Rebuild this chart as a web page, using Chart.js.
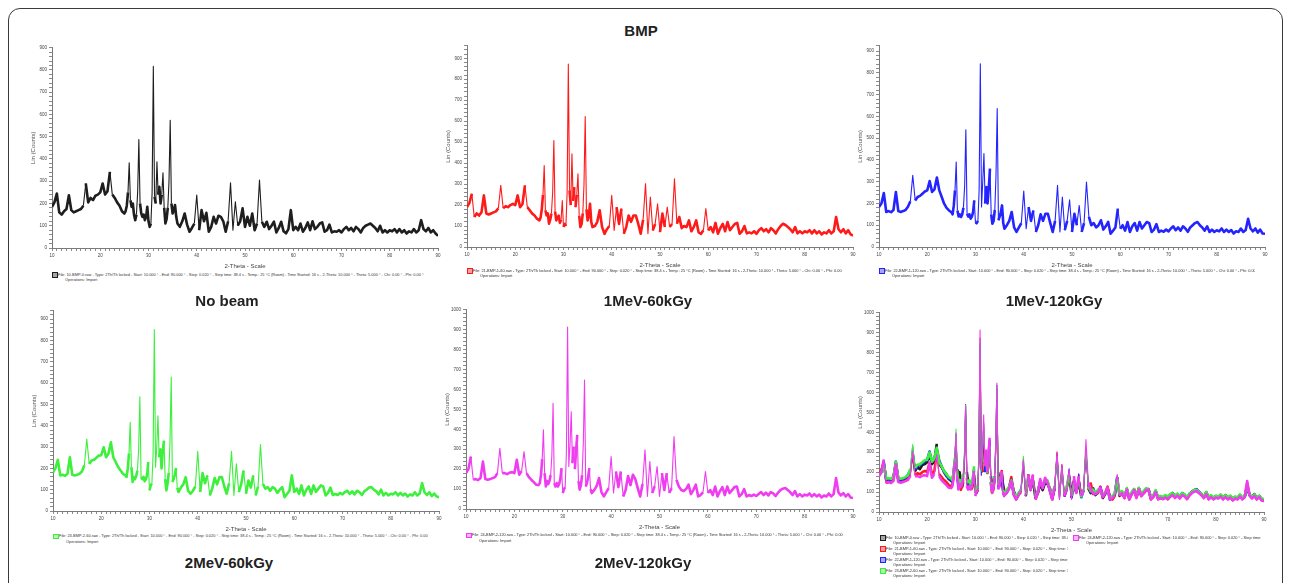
<!DOCTYPE html>
<html>
<head>
<meta charset="utf-8">
<script src="https://cdn.jsdelivr.net/npm/chart.js@4.4.1/dist/chart.umd.min.js"></script>
<style>
  body { margin: 0; width: 1289px; height: 583px; overflow: hidden; position: relative; background: #fff; font-family: "Liberation Sans", Arial, sans-serif; }
  .frame { position: absolute; left: 8px; top: 8px; width: 1273px; height: 640px; border: 1.5px solid #3a3a3a; border-radius: 12px; }
  .title { position: absolute; transform: translate(-50%, -50%); font-weight: bold; font-size: 15px; color: #222; white-space: nowrap; }
  .legend { position: absolute; font-size: 3.9px; line-height: 5.5px; color: #333; white-space: nowrap; overflow: hidden; }
  .legend .item { position: relative; padding-left: 6px; }
  .legend .box { position: absolute; left: 0; top: 0.5px; width: 3.5px; height: 3.5px; border: 0.8px solid; }
  .legend .ops { padding-left: 7px; }
</style>
</head>
<body>
<div class="frame"></div>

<script>
// 2-theta positions (deg), finer step round the main apatite peaks
const angles = [
  10, 10.5, 11, 11.5, 12, 12.5, 13, 13.5, 14, 14.5,
  15, 15.5, 16, 16.5, 17, 17.5, 18, 18.5, 19, 19.5,
  20, 20.5, 21, 21.5, 22, 22.5, 23, 23.5, 24, 24.5,
  25, 25.25, 25.5, 25.75, 26, 26.25, 26.5, 26.75,
  27, 27.25, 27.5, 27.75, 28, 28.25, 28.5, 28.75,
  29, 29.25, 29.5, 29.75, 30, 30.25, 30.5, 30.75,
  31, 31.25, 31.5, 31.75, 32, 32.25, 32.5, 32.75,
  33, 33.25, 33.5, 33.75, 34, 34.25, 34.5, 34.75,
  35, 35.25, 35.5, 35.75, 36,
  36.5, 37, 37.5, 38, 38.5, 39, 39.5, 40,
  40.5, 41, 41.5, 42, 42.5, 43, 43.5, 44, 44.5, 45,
  45.5, 46, 46.5, 47, 47.5, 48, 48.5, 49, 49.5, 50,
  50.5, 51, 51.5, 52, 52.5, 53, 53.5, 54, 54.5, 55,
  55.5, 56, 56.5, 57, 57.5, 58, 58.5, 59, 59.5, 60,
  60.5, 61, 61.5, 62, 62.5, 63, 63.5, 64, 64.5, 65,
  65.5, 66, 66.5, 67, 67.5, 68, 68.5, 69, 69.5, 70,
  70.5, 71, 71.5, 72, 72.5, 73, 73.5, 74, 74.5, 75,
  75.5, 76, 76.5, 77, 77.5, 78, 78.5, 79, 79.5, 80,
  80.5, 81, 81.5, 82, 82.5, 83, 83.5, 84, 84.5, 85,
  85.5, 86, 86.5, 87, 87.5, 88, 88.5, 89, 89.5, 90
]

// Lin (Counts)
const noBeam = [
  185, 205, 245, 160, 150, 165, 175, 237, 170, 160,
  165, 170, 175, 190, 290, 205, 225, 215, 235, 240,
  250, 290, 240, 255, 342, 240, 225, 205, 190, 165,
  155, 165, 190, 250, 383, 215, 185, 200,
  150, 125, 150, 250, 487, 200, 155, 140,
  150, 125, 140, 185, 120, 95, 110, 250,
  816, 230, 200, 387, 240, 275, 200, 240,
  338, 180, 110, 130, 180, 300, 574, 200,
  155, 170, 193, 140, 110,
  95, 120, 155, 105, 73, 90, 110, 238,
  80, 170, 120, 158, 73, 95, 140, 110, 145, 140,
  120, 73, 120, 293, 80, 208, 100, 120, 178, 95,
  140, 100, 155, 80, 110, 305, 118, 95, 118, 85,
  100, 118, 70, 90, 118, 75, 66, 85, 170, 80,
  95, 80, 110, 73, 90, 115, 80, 120, 85, 95,
  110, 115, 73, 80, 105, 70, 75, 73, 80, 70,
  85, 95, 80, 90, 75, 95, 85, 70, 90, 100,
  105, 110, 100, 90, 75, 100, 70, 80, 70, 80,
  75, 85, 70, 85, 70, 80, 65, 75, 70, 85,
  70, 80, 125, 85, 75, 90, 70, 80, 65, 55
]

const mev1_60kGy = [
  190, 210, 254, 143, 160, 150, 165, 246, 160, 155,
  160, 165, 170, 185, 294, 185, 195, 190, 200, 206,
  200, 246, 190, 205, 294, 190, 175, 160, 150, 135,
  127, 140, 180, 250, 389, 175, 150, 160,
  111, 130, 160, 260, 508, 170, 127, 140,
  150, 115, 130, 222, 95, 110, 100, 260,
  873, 270, 200, 444, 220, 286, 190, 250,
  349, 150, 95, 110, 160, 300, 622, 180,
  127, 150, 206, 120, 95,
  100, 120, 175, 95, 63, 85, 100, 246,
  79, 190, 110, 183, 63, 95, 150, 120, 150, 150,
  110, 63, 130, 302, 63, 238, 79, 110, 206, 71,
  159, 95, 190, 95, 110, 325, 111, 143, 90, 100,
  95, 127, 75, 95, 127, 70, 63, 80, 183, 79,
  95, 70, 115, 63, 90, 110, 75, 119, 80, 95,
  110, 115, 63, 75, 100, 65, 70, 65, 75, 63,
  80, 90, 75, 85, 70, 90, 80, 65, 85, 100,
  111, 105, 95, 85, 70, 95, 65, 75, 65, 75,
  70, 80, 65, 80, 65, 75, 60, 70, 65, 80,
  65, 75, 143, 85, 70, 85, 65, 80, 60, 55
]

const mev1_120kGy = [
  184, 200, 248, 161, 165, 160, 170, 253, 165, 161,
  165, 170, 185, 210, 329, 214, 230, 235, 245, 255,
  260, 303, 253, 265, 319, 260, 230, 199, 180, 168,
  160, 150, 190, 260, 390, 168, 140, 150,
  138, 150, 180, 280, 539, 153, 140, 150,
  130, 140, 160, 214, 107, 110, 120, 260,
  842, 184, 300, 429, 200, 276, 200, 270,
  360, 150, 107, 120, 170, 330, 636, 123,
  140, 160, 191, 110, 84,
  100, 120, 161, 90, 69, 90, 110, 257,
  84, 184, 120, 168, 69, 100, 150, 120, 153, 153,
  110, 69, 120, 283, 69, 230, 77, 120, 217, 69,
  153, 100, 191, 69, 110, 299, 138, 100, 110, 90,
  100, 123, 80, 95, 115, 61, 75, 90, 176, 84,
  100, 75, 115, 69, 95, 110, 75, 115, 85, 100,
  115, 110, 69, 80, 105, 69, 75, 70, 80, 72,
  85, 95, 77, 90, 75, 95, 85, 70, 90, 100,
  110, 115, 100, 90, 75, 95, 69, 80, 69, 77,
  72, 85, 69, 80, 69, 78, 62, 72, 69, 85,
  69, 78, 130, 85, 72, 85, 66, 80, 62, 61
]

const mev2_60kGy = [
  182, 200, 240, 167, 170, 165, 175, 252, 170, 167,
  170, 175, 185, 215, 338, 221, 237, 240, 250, 260,
  262, 299, 252, 270, 322, 252, 230, 206, 190, 175,
  167, 160, 200, 270, 416, 206, 136, 160,
  150, 165, 190, 290, 536, 159, 150, 160,
  140, 150, 170, 229, 97, 120, 130, 270,
  852, 206, 300, 447, 252, 290, 200, 280,
  330, 150, 97, 130, 180, 330, 629, 136,
  150, 170, 202, 110, 89,
  110, 125, 159, 95, 81, 95, 115, 280,
  89, 178, 130, 167, 73, 105, 155, 125, 159, 159,
  115, 81, 130, 280, 73, 221, 89, 125, 190, 81,
  143, 110, 167, 73, 115, 312, 128, 105, 112, 95,
  112, 105, 85, 100, 112, 65, 80, 95, 167, 89,
  105, 80, 120, 73, 100, 115, 80, 120, 90, 105,
  120, 115, 73, 85, 110, 75, 80, 75, 85, 78,
  89, 95, 80, 92, 78, 95, 89, 75, 92, 100,
  110, 112, 100, 92, 78, 100, 73, 85, 73, 81,
  78, 88, 73, 85, 73, 82, 68, 78, 73, 88,
  73, 82, 131, 88, 75, 88, 70, 82, 68, 65
]

const mev2_120kGy = [
  180, 200, 263, 147, 150, 145, 155, 238, 150, 147,
  150, 155, 160, 180, 305, 180, 180, 175, 182, 185,
  180, 247, 172, 190, 288, 180, 160, 147, 135, 122,
  120, 130, 170, 250, 397, 180, 113, 140,
  125, 140, 170, 270, 530, 130, 113, 130,
  113, 125, 150, 205, 80, 100, 110, 280,
  913, 213, 320, 488, 230, 313, 200, 290,
  372, 140, 97, 120, 170, 330, 647, 113,
  130, 160, 205, 100, 80,
  95, 115, 155, 85, 63, 85, 105, 263,
  80, 188, 110, 188, 63, 95, 165, 120, 172, 150,
  105, 63, 125, 297, 63, 238, 80, 115, 213, 63,
  180, 95, 180, 80, 105, 363, 147, 113, 95, 90,
  100, 122, 75, 95, 122, 63, 70, 85, 188, 80,
  95, 70, 113, 63, 90, 110, 70, 113, 80, 95,
  110, 113, 63, 75, 100, 63, 70, 65, 72, 65,
  75, 85, 70, 82, 68, 85, 78, 65, 82, 95,
  102, 105, 95, 85, 70, 90, 63, 75, 63, 72,
  68, 78, 63, 75, 63, 72, 58, 68, 63, 78,
  63, 75, 155, 82, 68, 80, 63, 75, 58, 55
]

const sampleFiles = ["10-BMP-0.raw", "21-BMP-1-60.raw", "22-BMP-1-120.raw", "23-BMP-2-60.raw", "24-BMP-2-120.raw"]
const sampleColors = ["#1e1e1e", "#ff1a1a", "#2424ff", "#3cf03c", "#f03cf0"]
const sampleValues = [noBeam, mev1_60kGy, mev1_120kGy, mev2_60kGy, mev2_120kGy]

const captions = [
  { text: "BMP", x: 641, y: 30 },
  { text: "No beam", x: 227, y: 300 },
  { text: "1MeV-60kGy", x: 648, y: 300 },
  { text: "1MeV-120kGy", x: 1054, y: 300 },
  { text: "2MeV-60kGy", x: 229, y: 562 },
  { text: "2MeV-120kGy", x: 643, y: 562 }
]

// x0/x1 = axis ends, top/y0 = plot top and zero line (px), ymax = value at plot top
const panels = [
  { x0: 52, x1: 438, top: 47, y0: 248, ymax: 900, samples: [0], legendTop: 271.5 },
  { x0: 467, x1: 853, top: 45, y0: 247, ymax: 960, samples: [1], legendTop: 267.5 },
  { x0: 879, x1: 1265, top: 45, y0: 247, ymax: 925, samples: [2], legendTop: 267.5 },
  { x0: 53, x1: 439, top: 310, y0: 511, ymax: 940, samples: [3], legendTop: 533 },
  { x0: 466, x1: 853, top: 309, y0: 509, ymax: 1000, samples: [4], legendTop: 532 },
  { x0: 879, x1: 1264, top: 312, y0: 512, ymax: 1000, samples: [0, 1, 2, 3, 4], legendTop: 534.5 }
]

Chart.defaults.font.family = '"Liberation Sans", Arial, sans-serif'

function legendText(i, short) {
  let txt = "File: " + sampleFiles[i] + " - Type: 2Th/Th locked - Start: 10.000 ° - End: 90.000 ° - Step: 0.020 ° - Step time: 38.4 s"
  if (!short) txt += " - Temp.: 25 °C (Room) - Time Started: 16 s - 2-Theta: 10.000 ° - Theta: 5.000 ° - Chi: 0.00 ° - Phi: 0.00 °"
  return txt
}

function legendItem(i, short) {
  const item = document.createElement("div")
  item.className = "item"
  const box = document.createElement("span")
  box.className = "box"
  box.style.borderColor = sampleColors[i]
  box.style.background = sampleColors[i] + "66"
  item.appendChild(box)
  item.appendChild(document.createTextNode(legendText(i, short)))
  const ops = document.createElement("div")
  ops.className = "ops"
  ops.textContent = "Operations: Import"
  item.appendChild(ops)
  return item
}

function drawLegend(p) {
  if (p.samples.length === 1) {
    const lg = document.createElement("div")
    lg.className = "legend"
    lg.style.left = p.x0 + "px"
    lg.style.top = p.legendTop + "px"
    lg.style.width = (p.x1 - p.x0 - 10) + "px"
    lg.appendChild(legendItem(p.samples[0], false))
    document.body.appendChild(lg)
    return
  }
  // combined panel: four entries on the left, the last one on the right
  const left = document.createElement("div")
  left.className = "legend"
  left.style.left = (p.x0 + 1) + "px"
  left.style.top = p.legendTop + "px"
  left.style.width = "188px"
  p.samples.slice(0, 4).forEach(i => left.appendChild(legendItem(i, true)))
  document.body.appendChild(left)
  const right = document.createElement("div")
  right.className = "legend"
  right.style.left = (p.x0 + 194) + "px"
  right.style.top = p.legendTop + "px"
  right.style.width = "188px"
  right.appendChild(legendItem(p.samples[4], true))
  document.body.appendChild(right)
}

// steep peak flanks are drawn thin, the noisy background as a thicker band
function segWidth(ctx) {
  return Math.abs(ctx.p1.parsed.y - ctx.p0.parsed.y) > 90 ? 1.1 : 2.6
}

function drawPanel(p) {
  const canvas = document.createElement("canvas")
  canvas.width = p.x1 - p.x0 + 28
  canvas.height = p.y0 - p.top + 26
  canvas.style.position = "absolute"
  canvas.style.left = (p.x0 - 22) + "px"
  canvas.style.top = (p.top - 4) + "px"
  document.body.appendChild(canvas)

  // dataset 0 is painted last, so the overlay lists the last sample first
  const order = p.samples.slice().reverse()

  let chart = new Chart(canvas, {
    type: "line",
    data: {
      datasets: order.map(i => ({
        label: sampleFiles[i],
        data: angles.map((a, k) => ({ x: a, y: sampleValues[i][k] })),
        borderColor: sampleColors[i],
        borderWidth: 2,
        borderJoinStyle: "round",
        segment: { borderWidth: segWidth },
        pointRadius: 0,
        tension: 0,
        fill: false
      }))
    },
    options: {
      responsive: false,
      animation: false,
      events: [],
      layout: { padding: { left: 0, right: 6, top: 4, bottom: 0 } },
      plugins: { legend: { display: false }, tooltip: { enabled: false } },
      scales: {
        x: {
          type: "linear",
          min: 10,
          max: 90,
          afterFit: s => { s.height = 22 },
          grid: { drawOnChartArea: false, drawTicks: true, tickLength: 3, color: "#8a8a8a" },
          border: { color: "#7a7a7a", width: 1 },
          ticks: {
            stepSize: 1,
            autoSkip: false,
            maxRotation: 0,
            padding: 2,
            color: "#444",
            font: { size: 4.5 },
            callback: v => (v % 10 === 0 ? v : "")
          },
          title: { display: true, text: "2-Theta - Scale", color: "#444", font: { size: 6 }, padding: 0 }
        },
        y: {
          type: "linear",
          min: 0,
          max: p.ymax,
          afterFit: s => { s.width = 22 },
          grid: { drawOnChartArea: false, drawTicks: true, tickLength: 3, color: "#8a8a8a" },
          border: { color: "#7a7a7a", width: 1 },
          ticks: {
            stepSize: 20,
            autoSkip: false,
            padding: 2,
            color: "#444",
            font: { size: 4.5 },
            callback: v => (v % 100 === 0 ? v : "")
          },
          title: { display: true, text: "Lin (Counts)", color: "#555", font: { size: 6 }, padding: 0 }
        }
      }
    }
  })
  drawLegend(p)
  return chart
}

panels.forEach(drawPanel)

captions.forEach(c => {
  const t = document.createElement("div")
  t.className = "title"
  t.style.left = c.x + "px"
  t.style.top = c.y + "px"
  t.textContent = c.text
  document.body.appendChild(t)
})
</script>
</body>
</html>
